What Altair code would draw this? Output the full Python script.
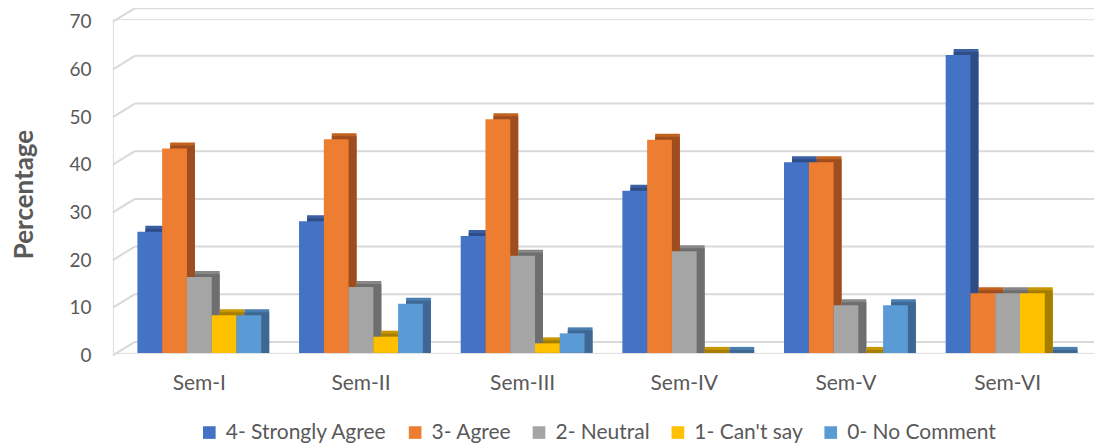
import altair as alt
import pandas as pd

sems = ["Sem-I", "Sem-II", "Sem-III", "Sem-IV", "Sem-V", "Sem-VI"]
cats = ["4- Strongly Agree", "3- Agree", "2- Neutral", "1- Can't say", "0- No Comment"]
strongly_agree = [25.4, 27.6, 24.5, 34.0, 40.0, 62.5]
agree = [42.9, 44.8, 49.0, 44.7, 40.0, 12.5]
neutral = [15.9, 13.8, 20.4, 21.3, 10.0, 12.5]
cant_say = [7.9, 3.4, 2.0, 0.0, 0.0, 12.5]
no_comment = [7.9, 10.3, 4.1, 0.0, 10.0, 0.0]
y_ticks = [0, 10, 20, 30, 40, 50, 60, 70]

front_colors = ["#4472C4", "#ED7D31", "#A5A5A5", "#FFC000", "#5B9BD5"]
top_colors = ["#3A5FA3", "#C2621F", "#878787", "#C89600", "#4A7EAE"]
side_colors = ["#2E4C86", "#9E4E1E", "#6E6E6E", "#A57E00", "#3E6893"]

series = [strongly_agree, agree, neutral, cant_say, no_comment]
rows = []
for c, vals in zip(cats, series):
    for s, v in zip(sems, vals):
        rows.append({"sem": s, "cat": c, "value": v})
df = pd.DataFrame(rows)
grid_df = pd.DataFrame({"v": y_ticks})

W, H = 982, 334
YMAX = 70
PI, PO = 0.234, 0.1515
step = W / (len(sems) - PI + 2 * PO)
bw = step * (1 - PI)
DX, DY = 8, 6
GDX, GDY, GFRONT = 22, 11, 2.5
px = YMAX / H  # data units per pixel

yscale = alt.Scale(domain=[0, YMAX], nice=False)
xscale = alt.Scale(domain=sems, paddingInner=PI, paddingOuter=PO)
TXT = "#595959"

x_axis = alt.Axis(domain=False, ticks=False, labelFontSize=21, labelFont="Lato",
                  labelColor=TXT, labelPadding=20, labelAngle=0)

grid_h = alt.Chart(grid_df).mark_rule(color="#D9D9D9", strokeWidth=2, yOffset=-GDY).encode(
    x=alt.value(GDX), x2=alt.value(W + 8),
    y=alt.Y("v:Q", scale=yscale,
            axis=alt.Axis(values=y_ticks, grid=False, domain=False, ticks=False,
                          labelFontSize=19, labelColor=TXT, labelFont="Lato", labelPadding=22,
                          labelOffset=GFRONT,
                          title="Percentage", titleFontSize=26, titleFont="Lato",
                          titleFontWeight="bold", titleColor=TXT,
                          titleX=-88, titleY=H / 2 + 8, titleAngle=270,
                          titleAlign="center", titleBaseline="middle")),
)
grid_d = alt.Chart(grid_df).mark_rule(color="#D9D9D9", strokeWidth=2,
                                      yOffset=GFRONT, y2Offset=-GDY).encode(
    x=alt.value(0), x2=alt.value(GDX),
    y=alt.Y("v:Q", scale=yscale), y2="v:Q",
)

def bars(rng, colors, lift, legend=None):
    return alt.Chart(df).transform_calculate(
        top=f"datum.value + {lift * px}"
    ).mark_bar().encode(
        x=alt.X("sem:N", scale=xscale, sort=sems, axis=x_axis, title=None),
        xOffset=alt.XOffset("cat:N", sort=cats,
                            scale=alt.Scale(domain=cats, range=rng, paddingInner=0, paddingOuter=0)),
        y=alt.Y("top:Q", scale=yscale, title="Percentage"),
        y2=alt.datum(0),
        color=alt.Color("cat:N", sort=cats, scale=alt.Scale(domain=cats, range=colors),
                        legend=legend),
    )

top_layer = bars([DX, bw + DX], top_colors, DY)
side_layer = bars([DX, bw + DX], side_colors, DY / 2)
front_layer = bars(
    [0, bw], front_colors, 0,
    legend=alt.Legend(orient="none", legendX=86, legendY=403, direction="horizontal",
                      title=None, symbolType="square", symbolSize=160, symbolStrokeWidth=0,
                      labelFontSize=21, labelFont="Lato", labelColor=TXT, labelLimit=400,
                      columnPadding=17, symbolOffset=0, labelOffset=6),
)

chart = alt.layer(grid_h, grid_d, top_layer, side_layer, front_layer).resolve_scale(
    xOffset="independent", color="independent"
).properties(
    width=W, height=H,
    autosize=alt.AutoSizeParams(type="none"),
    padding={"left": 105, "top": 11, "right": 0, "bottom": 90},
).configure_view(stroke=None).configure(background="white").configure_axisX(
    labelFontSize=21, labelFont="Lato", labelColor=TXT, labelPadding=20
)

chart.save("out.html", embed_options={"renderer": "svg", "actions": False})
